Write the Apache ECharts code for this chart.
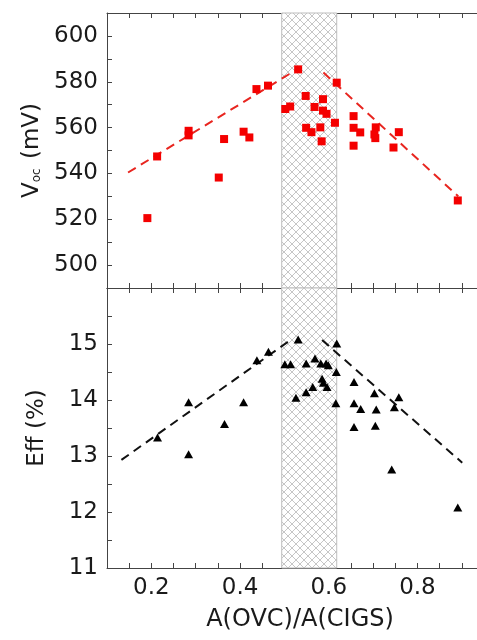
<!DOCTYPE html>
<html><head><meta charset="utf-8">
<script src="https://cdn.jsdelivr.net/npm/echarts@6/dist/echarts.min.js"></script>
<style>html,body{margin:0;padding:0;background:#fff}#c{width:477px;height:640px}</style>
</head><body><div id="c"></div>
<script>
// ---- data ----
const vocX = [0.191,0.213,0.284,0.284,0.352,0.364,0.408,0.421,0.437,0.463,0.502,0.513,0.531,0.548,0.549,0.561,0.568,0.581,0.584,0.587,0.587,0.595,0.614,0.618,0.656,0.656,0.656,0.671,0.706,0.703,0.705,0.746,0.758,0.891];
const vocY = [520.5,547.4,558.6,556.6,538.2,555.0,558.2,555.7,576.8,578.3,568.1,569.2,585.4,573.8,559.9,558.0,569.0,560.1,554.0,572.4,567.4,566.0,562.1,579.6,565.0,559.9,552.1,557.9,560.1,557.0,555.4,551.3,558.0,528.2];
const effX = [0.214,0.284,0.284,0.365,0.408,0.438,0.464,0.501,0.514,0.531,0.526,0.549,0.549,0.564,0.569,0.582,0.585,0.588,0.594,0.596,0.599,0.618,0.617,0.616,0.657,0.657,0.657,0.672,0.703,0.707,0.705,0.742,0.748,0.758,0.891];
const effY = [13.33,13.96,13.03,13.57,13.96,14.71,14.86,14.64,14.64,15.08,14.04,14.65,14.14,14.23,14.74,14.65,14.38,14.31,14.65,14.23,14.62,15.01,14.50,13.94,14.32,13.94,13.52,13.84,14.12,13.83,13.54,12.76,13.87,14.05,12.08];
const vocGuideLeftX = [0.1475, 0.525];
const vocGuideLeftY = [540.4, 585.0];
const vocGuideRightX = [0.588, 0.892];
const vocGuideRightY = [584.0, 530.0];
const effGuideLeftX = [0.1325, 0.51];
const effGuideLeftY = [12.93, 15.05];
const effGuideRightX = [0.585, 0.901];
const effGuideRightY = [15.07, 12.88];
const bandRange = [0.494, 0.618];
const xTickLabels = ['0.2','0.4','0.6','0.8'];
const vocTickLabels = [500,520,540,560,580,600];
const effTickLabels = [11,12,13,14,15];

const pairs = (xs, ys) => xs.map((x, i) => [x, ys[i]]);

// cross-hatch pattern
const pc = document.createElement('canvas');
pc.width = 8; pc.height = 8;
const g = pc.getContext('2d');
g.fillStyle = '#ffffff'; g.fillRect(0,0,8,8);
g.strokeStyle = '#c6c6c6'; g.lineWidth = 1;
g.beginPath(); g.moveTo(-1,-1); g.lineTo(9,9); g.moveTo(9,-1); g.lineTo(-1,9); g.stroke();
const hatch = {image: pc, repeat: 'repeat'};

const FONT = 'DejaVu Sans';
const AX = '#444';
const xMin = 0.1, xMax = 0.9343;

function xAxisDef(gridIndex, position, withLabels) {
  return {
    type: 'value', gridIndex, position, min: xMin, max: xMax, interval: 0.05,
    axisLine: {show: true, onZero: false, lineStyle: {color: AX, width: 1}},
    axisTick: {show: true, inside: true, length: 5, lineStyle: {color: AX}},
    splitLine: {show: false},
    axisLabel: withLabels ? {
      show: true, margin: 9, fontFamily: FONT, fontSize: 23, color: '#1a1a1a',
      showMinLabel: false, showMaxLabel: false,
      formatter: v => { const s = v.toFixed(1); return (Math.abs(v - parseFloat(s)) < 1e-6 && xTickLabels.includes(s)) ? s : ''; }
    } : {show: false},
    name: withLabels ? 'A(OVC)/A(CIGS)' : '',
    nameLocation: 'middle', nameGap: 40,
    nameTextStyle: {fontFamily: FONT, fontSize: 24, color: '#1a1a1a', padding: [0,0,0,16]}
  };
}

const option = {
  animation: false,
  backgroundColor: '#fff',
  grid: [
    {left: 107, right: 0, top: 13, height: 275, outerBoundsMode: 'none', containLabel: false},
    {left: 107, right: 0, top: 288, height: 280, outerBoundsMode: 'none', containLabel: false}
  ],
  xAxis: [
    xAxisDef(0, 'bottom', false),
    xAxisDef(0, 'top', false),
    xAxisDef(1, 'bottom', true),
    xAxisDef(1, 'top', false)
  ],
  yAxis: [
    {
      type: 'value', gridIndex: 0, min: 490, max: 610, interval: 10,
      axisLine: {show: true, lineStyle: {color: AX}},
      axisTick: {show: true, inside: true, length: 5, lineStyle: {color: AX}},
      splitLine: {show: false},
      axisLabel: {margin: 9, fontFamily: FONT, fontSize: 23, color: '#1a1a1a',
        formatter: v => vocTickLabels.includes(Math.round(v)) && Math.abs(v - Math.round(v)) < 1e-6 ? String(Math.round(v)) : ''},
      name: '{v|V}{s|oc}{v| (mV)}', nameLocation: 'middle', nameGap: 60,
      nameTextStyle: {rich: {
        v: {fontFamily: FONT, fontSize: 23, color: '#1a1a1a'},
        s: {fontFamily: FONT, fontSize: 12, color: '#1a1a1a', verticalAlign: 'bottom', padding: [10,2,0,0]}
      }}
    },
    {
      type: 'value', gridIndex: 1, min: 11, max: 16, interval: 0.5,
      axisLine: {show: true, lineStyle: {color: AX}},
      axisTick: {show: true, inside: true, length: 5, lineStyle: {color: AX}},
      splitLine: {show: false},
      axisLabel: {margin: 9, fontFamily: FONT, fontSize: 23, color: '#1a1a1a',
        formatter: v => (Math.abs(v - Math.round(v)) < 1e-6 && effTickLabels.includes(Math.round(v))) ? String(Math.round(v)) : ''},
      name: 'Eff (%)', nameLocation: 'middle', nameGap: 58,
      nameTextStyle: {fontFamily: FONT, fontSize: 23, color: '#1a1a1a'}
    }
  ],
  series: [
    {type: 'line', xAxisIndex: 0, yAxisIndex: 0, data: [], z: 0, silent: true,
      markArea: {silent: true, itemStyle: {color: hatch, borderColor: '#bdbdbd', borderWidth: 1},
        data: [[{xAxis: bandRange[0]}, {xAxis: bandRange[1]}]]}},
    {type: 'line', xAxisIndex: 2, yAxisIndex: 1, data: [], z: 0, silent: true,
      markArea: {silent: true, itemStyle: {color: hatch, borderColor: '#bdbdbd', borderWidth: 1},
        data: [[{xAxis: bandRange[0]}, {xAxis: bandRange[1]}]]}},
    {type: 'line', xAxisIndex: 0, yAxisIndex: 0, data: pairs(vocGuideLeftX, vocGuideLeftY), symbol: 'none', z: 3,
      lineStyle: {color: '#e8251f', width: 2, type: [9, 6]}},
    {type: 'line', xAxisIndex: 0, yAxisIndex: 0, data: pairs(vocGuideRightX, vocGuideRightY), symbol: 'none', z: 3,
      lineStyle: {color: '#e8251f', width: 2, type: [9, 6]}},
    {type: 'line', xAxisIndex: 2, yAxisIndex: 1, data: pairs(effGuideLeftX, effGuideLeftY), symbol: 'none', z: 3,
      lineStyle: {color: '#111', width: 2, type: [9, 6]}},
    {type: 'line', xAxisIndex: 2, yAxisIndex: 1, data: pairs(effGuideRightX, effGuideRightY), symbol: 'none', z: 3,
      lineStyle: {color: '#111', width: 2, type: [9, 6]}},
    {type: 'scatter', xAxisIndex: 0, yAxisIndex: 0, data: pairs(vocX, vocY), symbol: 'rect', symbolSize: 8, z: 5,
      itemStyle: {color: '#f40000', opacity: 1}},
    {type: 'scatter', xAxisIndex: 2, yAxisIndex: 1, data: pairs(effX, effY), symbol: 'triangle', symbolSize: [9, 8], z: 5,
      itemStyle: {color: '#000', opacity: 1}}
  ]
};

const chart = echarts.init(document.getElementById('c'), null, {renderer: 'canvas'});
chart.setOption(option);
</script></body></html>
